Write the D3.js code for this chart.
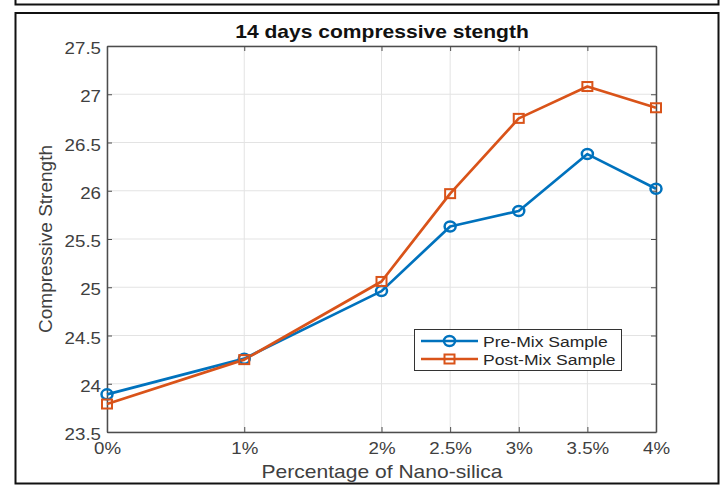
<!DOCTYPE html>
<html>
<head>
<meta charset="utf-8">
<script src="https://cdn.jsdelivr.net/npm/d3@7"></script>
<style>
  body { margin: 0; background: #fff; }
  svg { display: block; }
  text { font-family: "Liberation Sans", Arial, sans-serif; }
</style>
</head>
<body>
<svg id="chart" width="724" height="485"></svg>
<script>
const percentages = [0, 1, 2, 2.5, 3, 3.5, 4];
const xTickLabels = ["0%", "1%", "2%", "2.5%", "3%", "3.5%", "4%"];
const preMix = [23.89, 24.26, 24.96, 25.63, 25.79, 26.38, 26.02];
const postMix = [23.79, 24.25, 25.06, 25.97, 26.75, 27.08, 26.86];
const yTicks = [23.5, 24, 24.5, 25, 25.5, 26, 26.5, 27, 27.5];
const seriesNames = ["Pre-Mix Sample", "Post-Mix Sample"];
const seriesColors = ["#0072BD", "#D95319"];

const svg = d3.select("#chart");
const W = 724, H = 485;
const m = { left: 107, right: 656, top: 46, bottom: 432 };
const SX = 1.17; // horizontal stretch of the reference text

svg.append("rect").attr("width", W).attr("height", H).attr("fill", "#fff");

// outer frames
svg.append("rect").attr("x", 15.5).attr("y", -20).attr("width", 703).attr("height", 24.5)
  .attr("fill", "none").attr("stroke", "#111").attr("stroke-width", 2);
svg.append("rect").attr("x", 15.5).attr("y", 13).attr("width", 703).attr("height", 470.5)
  .attr("fill", "none").attr("stroke", "#111").attr("stroke-width", 2);

const x = d3.scaleLinear().domain([0, 4]).range([m.left, m.right]);
const y = d3.scaleLinear().domain([23.5, 27.5]).range([m.bottom, m.top]);

// grid
const grid = svg.append("g");
grid.selectAll(".gx").data(percentages).join("line")
  .attr("x1", d => x(d)).attr("x2", d => x(d)).attr("y1", m.top).attr("y2", m.bottom)
  .attr("stroke", "#e3e3e3").attr("stroke-width", 1);
grid.selectAll(".gy").data(yTicks).join("line")
  .attr("y1", d => y(d)).attr("y2", d => y(d)).attr("x1", m.left).attr("x2", m.right)
  .attr("stroke", "#e3e3e3").attr("stroke-width", 1);

const axColor = "#4d4d4d";
const txtColor = "#404040";

function stretch(sel, tx, ty) {
  sel.attr("x", 0).attr("y", 0).attr("transform", `translate(${tx},${ty}) scale(${SX},1)`);
}

// axes (MATLAB style, ticks inward)
const xAxis = d3.axisBottom(x).tickValues(percentages).tickFormat((d, i) => xTickLabels[i])
  .tickSizeInner(-5).tickSizeOuter(0);
const gx = svg.append("g").attr("transform", `translate(0,${m.bottom})`).call(xAxis);
gx.select(".domain").attr("stroke", axColor).attr("stroke-width", 1.5);
gx.selectAll(".tick line").attr("stroke", axColor);
gx.selectAll("text").attr("font-size", 16).attr("fill", txtColor).attr("dy", null)
  .call(stretch, 0, 22);

const xAxisTop = d3.axisTop(x).tickValues(percentages).tickFormat("").tickSizeInner(-5).tickSizeOuter(0);
const gxt = svg.append("g").attr("transform", `translate(0,${m.top})`).call(xAxisTop);
gxt.select(".domain").attr("stroke", axColor).attr("stroke-width", 1.5);
gxt.selectAll(".tick line").attr("stroke", axColor);

const yAxis = d3.axisLeft(y).tickValues(yTicks).tickFormat(d3.format("")).tickSizeInner(-5).tickSizeOuter(0);
const gy = svg.append("g").attr("transform", `translate(${m.left},0)`).call(yAxis);
gy.select(".domain").attr("stroke", axColor).attr("stroke-width", 1.5);
gy.selectAll(".tick line").attr("stroke", axColor);
gy.selectAll("text").attr("font-size", 16).attr("fill", txtColor).attr("dy", null)
  .call(stretch, -6, 7.5);

const yAxisR = d3.axisRight(y).tickValues(yTicks).tickFormat("").tickSizeInner(-5).tickSizeOuter(0);
const gyr = svg.append("g").attr("transform", `translate(${m.right},0)`).call(yAxisR);
gyr.select(".domain").attr("stroke", axColor).attr("stroke-width", 1.5);
gyr.selectAll(".tick line").attr("stroke", axColor);

// lines
const series = [preMix, postMix];
const line = d3.line().x((d, i) => x(percentages[i])).y(d => y(d));
series.forEach((vals, si) => {
  svg.append("path").datum(vals).attr("d", line)
    .attr("fill", "none").attr("stroke", seriesColors[si]).attr("stroke-width", 2.7)
    .attr("stroke-linejoin", "round");
});
// markers
svg.selectAll(".mc").data(preMix).join("ellipse")
  .attr("cx", (d, i) => x(percentages[i])).attr("cy", d => y(d)).attr("rx", 5.5).attr("ry", 5)
  .attr("fill", "none").attr("stroke", seriesColors[0]).attr("stroke-width", 2.5);
svg.selectAll(".ms").data(postMix).join("rect")
  .attr("x", (d, i) => x(percentages[i]) - 5).attr("y", d => y(d) - 4.5)
  .attr("width", 10).attr("height", 9)
  .attr("fill", "none").attr("stroke", seriesColors[1]).attr("stroke-width", 2);

// title
svg.append("text").attr("text-anchor", "middle")
  .attr("font-size", 18).attr("font-weight", "bold").attr("fill", "#111")
  .text("14 days compressive stength").call(stretch, 382, 38);

// axis labels
svg.append("text").attr("text-anchor", "middle")
  .attr("font-size", 18).attr("fill", txtColor).text("Percentage of Nano-silica")
  .call(stretch, 382, 478);
svg.append("text").attr("transform", "translate(52,239) rotate(-90)").attr("text-anchor", "middle")
  .attr("font-size", 19).attr("fill", txtColor).text("Compressive Strength");

// legend
const lg = svg.append("g");
lg.append("rect").attr("x", 414.5).attr("y", 329.5).attr("width", 207).attr("height", 41)
  .attr("fill", "#fff").attr("stroke", "#333").attr("stroke-width", 1);
seriesNames.forEach((name, i) => {
  const ly = 341 + i * 18;
  lg.append("line").attr("x1", 421).attr("x2", 478).attr("y1", ly).attr("y2", ly)
    .attr("stroke", seriesColors[i]).attr("stroke-width", 2.7);
  if (i === 0) {
    lg.append("ellipse").attr("cx", 449.5).attr("cy", ly).attr("rx", 5.5).attr("ry", 5)
      .attr("fill", "none").attr("stroke", seriesColors[i]).attr("stroke-width", 2.5);
  } else {
    lg.append("rect").attr("x", 444.5).attr("y", ly - 4.5).attr("width", 10).attr("height", 9)
      .attr("fill", "none").attr("stroke", seriesColors[i]).attr("stroke-width", 2);
  }
  lg.append("text").attr("font-size", 15)
    .attr("fill", "#262626").text(name).call(stretch, 483, ly + 5.5);
});
</script>
</body>
</html>
